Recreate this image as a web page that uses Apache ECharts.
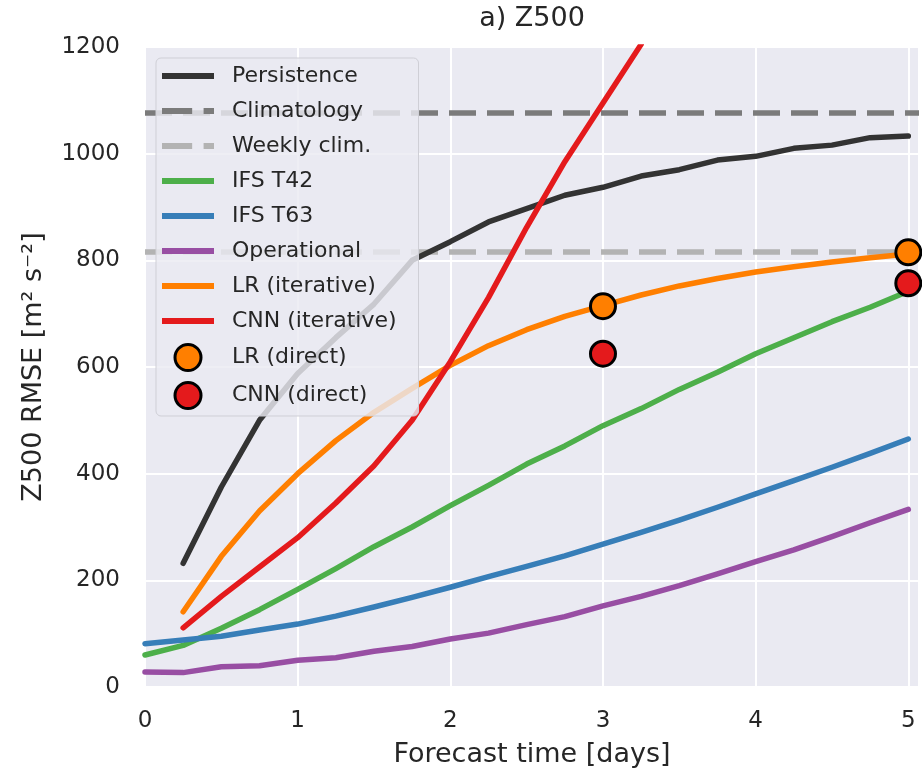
<!DOCTYPE html>
<html>
<head>
<meta charset="utf-8">
<script src="https://cdn.jsdelivr.net/npm/echarts@6/dist/echarts.min.js"></script>
<style>
  * { margin: 0; padding: 0; }
  #chart-container { width: 922px; height: 776px; background: #fff; }
</style>
</head>
<body>
<div id="chart-container"></div>
<script>
  // lead times in days (6-hourly)
  var leadDays = [0, 0.25, 0.5, 0.75, 1, 1.25, 1.5, 1.75, 2, 2.25, 2.5, 2.75, 3, 3.25, 3.5, 3.75, 4, 4.25, 4.5, 4.75, 5]

  // Z500 RMSE [m2 s-2]
  var persistence = [null, 232, 375, 500, 588, 655, 718, 800, 835, 872, 897, 922, 937, 958, 970, 988, 995, 1010, 1016, 1030, 1033]
  var climatology = 1076
  var weeklyClim = 816
  var ifsT42 = [60, 78, 110, 145, 183, 222, 263, 300, 340, 378, 418, 452, 490, 522, 558, 590, 625, 655, 685, 712, 742]
  var ifsT63 = [81, 88, 95, 107, 118, 133, 150, 168, 187, 207, 226, 246, 268, 290, 313, 337, 362, 387, 412, 438, 465]
  var operational = [28, 27, 38, 40, 50, 55, 67, 76, 90, 101, 117, 132, 152, 170, 190, 212, 235, 257, 282, 308, 333]
  var lrIterative = [null, 141, 245, 330, 400, 462, 515, 560, 603, 640, 670, 695, 715, 735, 752, 766, 778, 788, 797, 805, 812]
  var cnnIterative = [null, 111, 170, 225, 280, 345, 415, 500, 610, 730, 862, 985, 1095, 1205]

  var directDays = [3, 5]
  var lrDirect = [714, 815]
  var cnnDirect = [625, 757]

  var xTicks = [0, 1, 2, 3, 4, 5]
  var yTicks = [0, 200, 400, 600, 800, 1000, 1200]

  var colors = {
    persistence: '#333333',
    climatology: '#7b7b7b',
    weekly: '#b3b3b3',
    t42: '#4daf4a',
    t63: '#377eb8',
    oper: '#984ea3',
    lr: '#ff7f00',
    cnn: '#e41a1c',
  }

  function pairs(xs, ys) {
    var out = []
    for (var i = 0; i < ys.length; i++) {
      if (ys[i] != null) out.push([xs[i], ys[i]])
    }
    return out
  }

  var font = 'DejaVu Sans'
  var textColor = '#262626'
  var lineW = 5.5

  function lineSeries(name, color, xs, ys) {
    return {
      name: name,
      type: 'line',
      data: pairs(xs, ys),
      showSymbol: false,
      symbol: 'none',
      color: color,
      z: 2,
      lineStyle: { color: color, width: lineW, cap: 'round', join: 'round' },
    }
  }

  function hLine(name, color, value) {
    return {
      name: name,
      type: 'line',
      data: [],
      color: color,
      z: 1,
      markLine: {
        z: 1,
        silent: true,
        symbol: 'none',
        label: { show: false },
        lineStyle: { color: color, width: lineW, type: [27, 11] },
        data: [{ yAxis: value }],
      },
    }
  }

  function dotSeries(name, color, xs, ys) {
    return {
      name: name,
      type: 'scatter',
      data: pairs(xs, ys),
      symbolSize: 25,
      color: color,
      z: 3,
      itemStyle: { color: color, borderColor: '#000', borderWidth: 3, opacity: 1 },
    }
  }

  var solidIcon = 'path://M0,0H52V6H0Z'
  var dashIcon = 'path://M0,0H29V6H0Z M40,0H50V6H40Z'

  var chartDom = document.getElementById('chart-container')
  var myChart = echarts.init(chartDom, null, { renderer: 'canvas' })

  var option = {
    animation: false,
    backgroundColor: '#ffffff',
    title: {
      text: 'a) Z500',
      left: 532,
      top: 5,
      padding: 0,
      textAlign: 'center',
      textStyle: { fontFamily: font, fontSize: 27, fontWeight: 'normal', color: textColor },
    },
    grid: {
      left: 145,
      right: 2,
      top: 47,
      bottom: 89,
      show: true,
      backgroundColor: '#eaeaf2',
      borderWidth: 0,
    },
    xAxis: {
      type: 'value',
      min: 0,
      max: 5.07,
      interval: 1,
      name: 'Forecast time [days]',
      nameLocation: 'middle',
      nameGap: 54,
      nameTextStyle: { fontFamily: font, fontSize: 27, color: textColor },
      axisLine: { show: false },
      axisTick: { show: false },
      axisLabel: {
        margin: 23,
        fontFamily: font,
        fontSize: 23,
        color: textColor,
        formatter: function (v) {
          return xTicks.indexOf(v) >= 0 ? String(v) : ''
        },
      },
      splitLine: { show: true, lineStyle: { color: '#ffffff', width: 2 } },
    },
    yAxis: {
      type: 'value',
      min: yTicks[0],
      max: yTicks[yTicks.length - 1],
      interval: 200,
      name: 'Z500 RMSE [m² s⁻²]',
      nameLocation: 'middle',
      nameRotate: 90,
      nameGap: 98,
      nameTextStyle: { fontFamily: font, fontSize: 27, color: textColor },
      axisLine: { show: false },
      axisTick: { show: false },
      axisLabel: {
        margin: 25,
        fontFamily: font,
        fontSize: 23,
        color: textColor,
        formatter: function (v) {
          return String(v)
        },
      },
      splitLine: { show: true, lineStyle: { color: '#ffffff', width: 2 } },
    },
    legend: {
      orient: 'vertical',
      left: 156,
      top: 58,
      z: 20,
      padding: [5, 22, 6, 6],
      itemWidth: 52,
      itemHeight: 26,
      itemGap: 9,
      backgroundColor: 'rgba(234,234,242,0.82)',
      borderColor: '#cfcfd6',
      borderWidth: 1,
      borderRadius: 5,
      textStyle: { fontFamily: font, fontSize: 22, color: textColor, lineHeight: 26, padding: [0, 0, 0, 13] },
      data: [
        { name: 'Persistence', icon: solidIcon, itemStyle: { color: colors.persistence, borderWidth: 0 } },
        { name: 'Climatology', icon: dashIcon, itemStyle: { color: colors.climatology, borderWidth: 0 } },
        { name: 'Weekly clim.', icon: dashIcon, itemStyle: { color: colors.weekly, borderWidth: 0 } },
        { name: 'IFS T42', icon: solidIcon, itemStyle: { color: colors.t42, borderWidth: 0 } },
        { name: 'IFS T63', icon: solidIcon, itemStyle: { color: colors.t63, borderWidth: 0 } },
        { name: 'Operational', icon: solidIcon, itemStyle: { color: colors.oper, borderWidth: 0 } },
        { name: 'LR (iterative)', icon: solidIcon, itemStyle: { color: colors.lr, borderWidth: 0 } },
        { name: 'CNN (iterative)', icon: solidIcon, itemStyle: { color: colors.cnn, borderWidth: 0 } },
        { name: 'LR (direct)', icon: 'circle', itemStyle: { color: colors.lr, borderColor: '#000', borderWidth: 3 } },
        { name: 'CNN (direct)', icon: 'circle', itemStyle: { color: colors.cnn, borderColor: '#000', borderWidth: 3 } },
      ],
    },
    series: [
      lineSeries('Persistence', colors.persistence, leadDays, persistence),
      hLine('Climatology', colors.climatology, climatology),
      hLine('Weekly clim.', colors.weekly, weeklyClim),
      lineSeries('IFS T42', colors.t42, leadDays, ifsT42),
      lineSeries('IFS T63', colors.t63, leadDays, ifsT63),
      lineSeries('Operational', colors.oper, leadDays, operational),
      lineSeries('LR (iterative)', colors.lr, leadDays, lrIterative),
      lineSeries('CNN (iterative)', colors.cnn, leadDays, cnnIterative),
      dotSeries('LR (direct)', colors.lr, directDays, lrDirect),
      dotSeries('CNN (direct)', colors.cnn, directDays, cnnDirect),
    ],
  }

  myChart.setOption(option)
  window.addEventListener('resize', myChart.resize)
</script>
</body>
</html>
